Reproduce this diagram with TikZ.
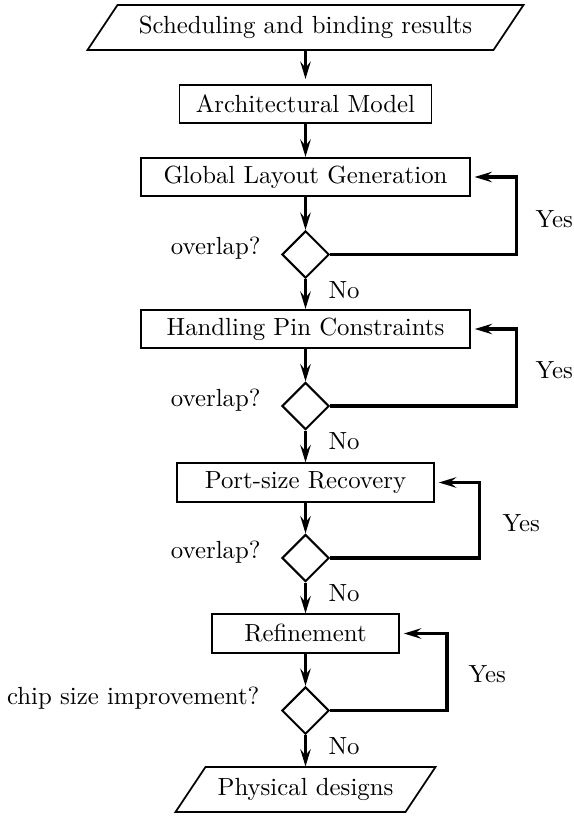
\documentclass[tikz,border=0pt]{standalone}
\usetikzlibrary{arrows.meta,shapes.geometric,calc}
\begin{document}
\begin{tikzpicture}[x=0.4032pt,y=-0.4032pt,
  stepbox/.style={draw,line width=0.7pt,rectangle,minimum height=15.5pt,inner sep=0pt},
  decision/.style={draw,line width=0.8pt,diamond,minimum width=19pt,minimum height=19pt,inner sep=0pt},
  iotext/.style={inner sep=0pt,minimum height=18.1pt},
  ioline/.style={line width=0.7pt,line join=miter},
  flow/.style={line width=1.6pt,-{Stealth[length=7pt,width=4.2pt,inset=2.5pt]}},
  backflow/.style={line width=1.4pt,-{Stealth[length=7pt,width=4.2pt,inset=2.5pt]},shorten >=1.6pt},
  lbl/.style={inner sep=0pt}]
\useasboundingbox (0,0) rectangle (573,816);

% input / output parallelograms (text nodes, outlines drawn below)
\node[iotext] (src) at (305.5,27.5) {Scheduling and binding results};
\node[iotext] (sink) at (305.5,789.5) {Physical designs};
\draw[ioline] ($(src.center)+(-188,-22.5)$) -- ($(src.center)+(218,-22.5)$)
  -- ($(src.center)+(188,22.5)$) -- ($(src.center)+(-218,22.5)$) -- cycle;
\draw[ioline] ($(sink.center)+(-100,-22.5)$) -- ($(sink.center)+(130,-22.5)$)
  -- ($(sink.center)+(100,22.5)$) -- ($(sink.center)+(-130,22.5)$) -- cycle;

% processing steps
\node[stepbox,minimum width=101.6pt] (arch) at (305.5,104) {Architectural Model};
\node[stepbox,minimum width=132.4pt] (glg) at (305.5,177) {Global Layout Generation};
\node[stepbox,minimum width=132.6pt] (hpc) at (305.5,329) {Handling Pin Constraints};
\node[stepbox,minimum width=103.6pt] (psr) at (305.5,482.5) {Port-size Recovery};
\node[stepbox,minimum width=75.4pt] (ref) at (305.5,633.5) {Refinement};

% decisions
\node[decision] (d1) at (305.5,254.5) {};
\node[decision] (d2) at (305.5,406) {};
\node[decision] (d3) at (305.5,558) {};
\node[decision] (d4) at (305.5,710.5) {};

% decision questions
\node[lbl,anchor=base east] (q1) at ([xshift=-8pt]d1.west) {overlap?};
\node[lbl,anchor=base east] (q2) at ([xshift=-8pt]d2.west) {overlap?};
\node[lbl,anchor=base east] (q3) at ([xshift=-8pt]d3.west) {overlap?};
\node[lbl,anchor=base east] (q4) at ([xshift=-8.5pt,yshift=2.5pt]d4.west) {chip size improvement?};

% main flow
\draw[flow,shorten >=2pt] (src.south) -- (arch.north);
\draw[flow] (arch.south) -- (glg.north);
\draw[flow] (glg.south) -- (d1.north);
\draw[flow] (d1.south) -- (hpc.north);
\draw[flow] (hpc.south) -- (d2.north);
\draw[flow] (d2.south) -- (psr.north);
\draw[flow] (psr.south) -- (d3.north);
\draw[flow] (d3.south) -- (ref.north);
\draw[flow] (ref.south) -- (d4.north);
\draw[flow] (d4.south) -- (sink.north);

% feedback loops
\draw[backflow] (d1.east) -| ([xshift=18.5pt]glg.east) -- (glg.east);
\draw[backflow] (d2.east) -| ([xshift=18.5pt]hpc.east) -- (hpc.east);
\draw[backflow] (d3.east) -| ([xshift=18pt]psr.east) -- (psr.east);
\draw[backflow] (d4.east) -| ([xshift=19pt]ref.east) -- (ref.east);

% branch labels
\node[lbl,anchor=base west] (n1) at ([xshift=9.1pt,yshift=-7.7pt]d1.south) {No};
\node[lbl,anchor=base west] (n2) at ([xshift=9.1pt,yshift=-7.7pt]d2.south) {No};
\node[lbl,anchor=base west] (n3) at ([xshift=9.1pt,yshift=-7.7pt]d3.south) {No};
\node[lbl,anchor=base west] (n4) at ([xshift=9.1pt,yshift=-7.7pt]d4.south) {No};
\node[lbl,anchor=base west] (y1) at (535,227) {Yes};
\node[lbl,anchor=base west] (y2) at (535,378) {Yes};
\node[lbl,anchor=base west] (y3) at (502,531) {Yes};
\node[lbl,anchor=base west] (y4) at (468,682) {Yes};
\end{tikzpicture}
\end{document}
